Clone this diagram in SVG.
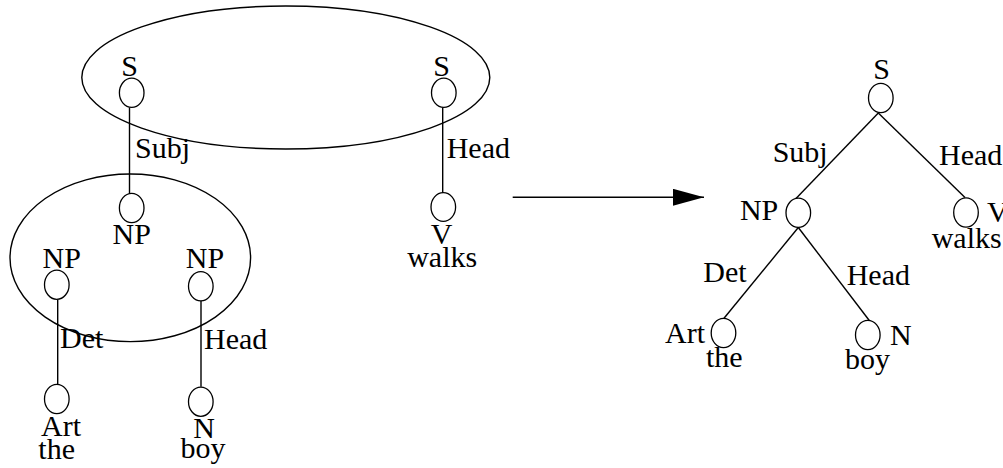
<svg xmlns="http://www.w3.org/2000/svg" width="1003" height="468" viewBox="0 0 1003 468">
<style>
text{font-family:"Liberation Serif","Times New Roman",serif;font-size:30px;fill:#000}
.n{fill:none;stroke:#000;stroke-width:1.3}
.c line{stroke:#000;stroke-width:1.4}
.m{text-anchor:middle}
.e{text-anchor:end}
.big{fill:none;stroke:#000;stroke-width:1.4}
</style>
<defs>
<marker id="ah" viewBox="0 0 31 17" refX="31" refY="8.5" markerWidth="31" markerHeight="17" markerUnits="userSpaceOnUse" orient="auto">
<polygon points="0,0 31,8.5 0,17" fill="#000"/>
</marker>
</defs>
<rect width="1003" height="468" fill="#fff"/>
<g id="groupings">
<ellipse class="big" cx="285.8" cy="77.5" rx="204" ry="71.5"/>
<ellipse class="big" cx="130.3" cy="257.8" rx="120.3" ry="83.8"/>
</g>
<g class="c" id="connectors">
<line x1="129.5" y1="107.5" x2="129.5" y2="193"/>
<line x1="442.7" y1="107.5" x2="442.7" y2="193"/>
<line x1="57.7" y1="299.5" x2="57.7" y2="384.5"/>
<line x1="201" y1="301" x2="201" y2="386.7"/>
<line x1="512.7" y1="197.3" x2="704" y2="197.3" marker-end="url(#ah)"/>
<line x1="878.3" y1="113" x2="796" y2="198.5"/>
<line x1="878.3" y1="113" x2="965" y2="197.5"/>
<line x1="798.3" y1="227.5" x2="724" y2="318.3"/>
<line x1="798.3" y1="227.5" x2="869.3" y2="320.5"/>
<text x="135" y="157.7">Subj</text>
<text x="446.7" y="157.7">Head</text>
<text x="60" y="348.3">Det</text>
<text x="204" y="349.3">Head</text>
<text x="772.7" y="161.7">Subj</text>
<text x="939" y="165">Head</text>
<text x="703.3" y="281.7">Det</text>
<text x="846.7" y="285">Head</text>
</g>
<g id="L-S1"><ellipse class="n" cx="131.7" cy="92.8" rx="12.3" ry="14.6"/><text class="m" x="129.5" y="76">S</text></g>
<g id="L-NP1"><ellipse class="n" cx="131.7" cy="208" rx="12.3" ry="14.6"/><text class="m" x="131.7" y="244">NP</text></g>
<g id="L-S2"><ellipse class="n" cx="443.8" cy="92.8" rx="12.3" ry="14.6"/><text class="m" x="441.7" y="76">S</text></g>
<g id="L-V"><ellipse class="n" cx="443.3" cy="207" rx="12.3" ry="14.3"/><text class="m" x="441.7" y="244.3">V</text><text class="m" x="442.2" y="267.3">walks</text></g>
<g id="L-NP2"><ellipse class="n" cx="56.8" cy="284.7" rx="12.3" ry="14.6"/><text class="m" x="61.7" y="268.3">NP</text></g>
<g id="L-Art"><ellipse class="n" cx="56.8" cy="399" rx="12.3" ry="14.6"/><text class="m" x="61" y="436">Art</text><text class="m" x="56.7" y="459.3">the</text></g>
<g id="L-NP3"><ellipse class="n" cx="200.8" cy="286.3" rx="12.3" ry="14.6"/><text class="m" x="205" y="268.3">NP</text></g>
<g id="L-N"><ellipse class="n" cx="200.8" cy="401.7" rx="12.3" ry="14.6"/><text class="m" x="204" y="438.3">N</text><text class="m" x="203" y="458">boy</text></g>
<g id="R-S"><ellipse class="n" cx="880.8" cy="98" rx="12.3" ry="14.6"/><text class="m" x="881.7" y="79.3">S</text></g>
<g id="R-NP"><ellipse class="n" cx="798.3" cy="212.8" rx="12.3" ry="14.6"/><text class="e" x="778.3" y="220">NP</text></g>
<g id="R-V"><ellipse class="n" cx="966" cy="212.5" rx="12.3" ry="14.6"/><text x="987" y="222">V</text><text x="931.7" y="248.3">walks</text></g>
<g id="R-Art"><ellipse class="n" cx="723.5" cy="333" rx="12.3" ry="14.6"/><text class="e" x="705" y="342.7">Art</text><text x="706" y="366.7">the</text></g>
<g id="R-N"><ellipse class="n" cx="867.8" cy="335" rx="12.3" ry="14.6"/><text x="890" y="345">N</text><text x="845" y="369">boy</text></g>
</svg>
